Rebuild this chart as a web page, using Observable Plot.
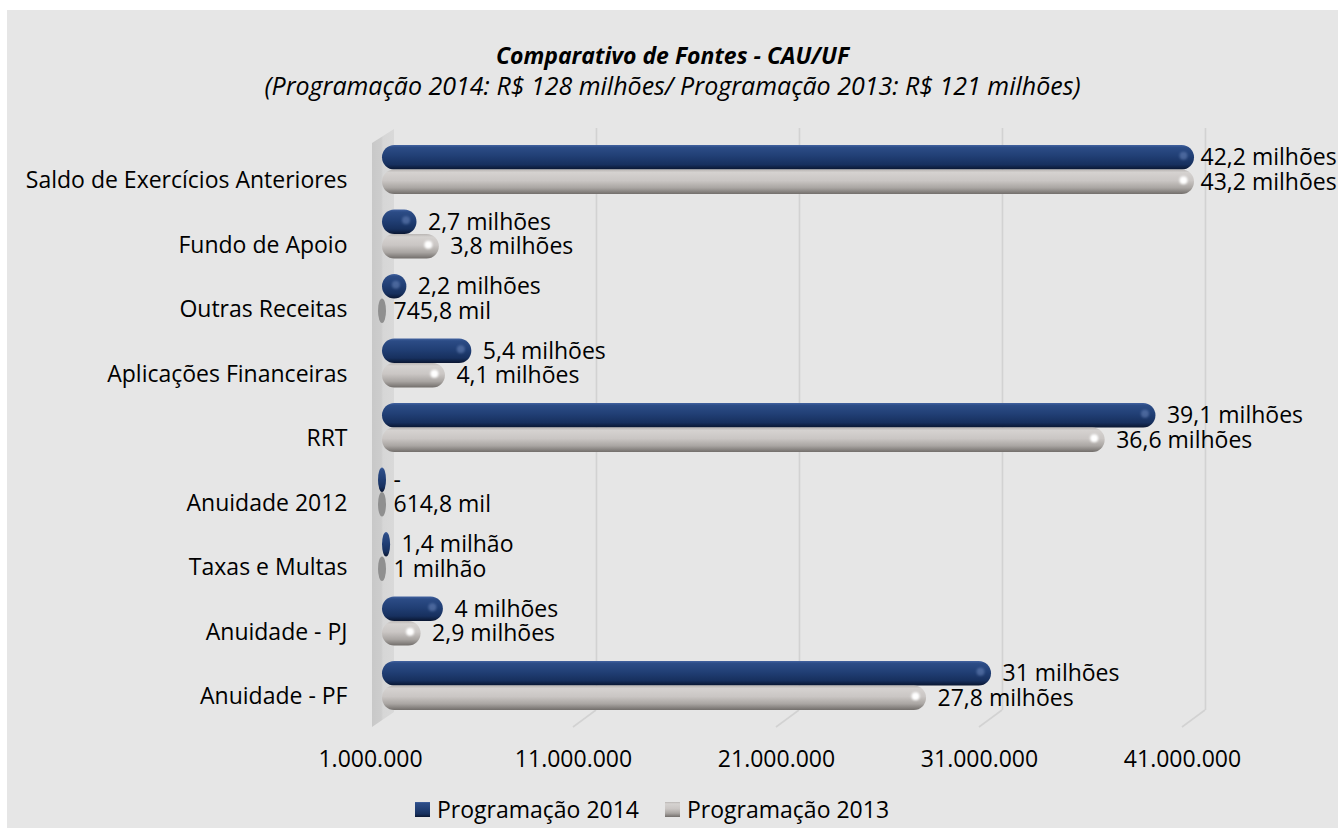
<!DOCTYPE html>
<html><head><meta charset="utf-8">
<script src="https://cdn.jsdelivr.net/npm/d3@7"></script>
<script src="https://cdn.jsdelivr.net/npm/@observablehq/plot@0.6"></script>
<style>
html,body{margin:0;padding:0;background:#fff;}
#chart{position:absolute;left:7px;top:10px;width:1331px;height:818px;background:#e6e6e6;font-family:"Open Sans",sans-serif;color:#000;overflow:hidden;}
#title{padding-top:29.5px;text-align:center;line-height:30px;}
#title .t{font-weight:bold;font-style:italic;font-size:23px;}
#title .s{font-style:italic;font-size:25px;}
#plot svg{display:block;}
#legend{padding-left:408px;margin-top:3px;}
</style></head><body>
<div id="chart">
  <div id="title"><div class="t">Comparativo de Fontes - CAU/UF</div><div class="s">(Programação 2014: R$ 128 milhões/ Programação 2013: R$ 121 milhões)</div></div>
  <div id="plot"></div>
  <div id="legend"></div>
</div>
<script>
const categories = ["Saldo de Exercícios Anteriores","Fundo de Apoio","Outras Receitas","Aplicações Financeiras","RRT","Anuidade 2012","Taxas e Multas","Anuidade - PJ","Anuidade - PF"];
const values2014 = [42.2e6, 2.7e6, 2.2e6, 5.4e6, 39.1e6, 0, 1.4e6, 4.0e6, 31.0e6];
const values2013 = [43.2e6, 3.8e6, 745.8e3, 4.1e6, 36.6e6, 614.8e3, 1.0e6, 2.9e6, 27.8e6];
const labels2014 = ["42,2 milhões","2,7 milhões","2,2 milhões","5,4 milhões","39,1 milhões","-","1,4 milhão","4 milhões","31 milhões"];
const labels2013 = ["43,2 milhões","3,8 milhões","745,8 mil","4,1 milhões","36,6 milhões","614,8 mil","1 milhão","2,9 milhões","27,8 milhões"];
const seriesNames = ["Programação 2014","Programação 2013"];
const xTicks = [1e6, 11e6, 21e6, 31e6, 41e6];
const xTickLabels = ["1.000.000","11.000.000","21.000.000","31.000.000","41.000.000"];

const rows = [];
categories.forEach((c, i) => {
  rows.push({category: c, series: seriesNames[0], value: values2014[i], label: labels2014[i]});
  rows.push({category: c, series: seriesNames[1], value: values2013[i], label: labels2013[i]});
});

const W = 1331, H = 690, mT = 37, mB = 72, mL = 375, mR = 144;
const pIn = 0.24, pOut = 0.124;
const step = (H - mT - mB) / (categories.length - pIn + 2 * pOut);
const half = step * (1 - pIn) / 2;
const xMin = xTicks[0], xMax = xTicks[xTicks.length - 1];
const tiny = 1.2e6;
const is14 = d => d.series === seriesNames[0];
const is13 = d => d.series === seriesNames[1];
const FS = 23;

const plot = Plot.plot({
  width: W, height: H,
  marginTop: mT, marginBottom: mB, marginLeft: mL, marginRight: mR,
  style: {background: "transparent", fontFamily: "'Open Sans', sans-serif", fontSize: FS + "px", color: "#000", overflow: "visible"},
  x: {domain: [xMin, xMax], clamp: true, axis: null},
  y: {domain: categories, paddingInner: pIn, paddingOuter: pOut, round: false, axis: null},
  color: {domain: seriesNames, range: ["url(#g14)", "url(#g13)"]},
  marks: [
    Plot.ruleX(xTicks.slice(1), {dx: 11, insetTop: -9, insetBottom: 8, stroke: "#d2d2d2", strokeWidth: 1.6}),
    Plot.text(xTicks, {x: d => d, text: (d, i) => xTickLabels[i], frameAnchor: "bottom", dy: 41, dx: -12, lineAnchor: "middle", fontSize: FS, fill: "#000"}),
    Plot.text(categories, {y: d => d, text: d => d, frameAnchor: "left", dx: -35, dy: 11, textAnchor: "end", lineAnchor: "middle", fontSize: FS, fill: "#000"}),
    // normal cylinders
    Plot.barX(rows, {filter: d => is14(d) && d.value > tiny, y: "category", x1: xMin, x2: "value", fill: "series", insetBottom: half, rx: half / 2}),
    Plot.barX(rows, {filter: d => is13(d) && d.value > tiny, y: "category", x1: xMin, x2: "value", fill: "series", insetTop: half, rx: half / 2}),
    // end caps only (values at or below the axis minimum)
    Plot.barX(rows, {filter: d => is14(d) && d.value <= tiny, y: "category", x1: xMin, x2: xMin, fill: "series", insetBottom: half, insetLeft: -4, insetRight: -4, rx: half / 2}),
    Plot.barX(rows, {filter: d => is13(d) && d.value <= tiny, y: "category", x1: xMin, x2: xMin, fill: "#8f8f8f", insetTop: half, insetLeft: -4, insetRight: -4, rx: half / 2}),
    // specular highlights
    Plot.dot(rows, {filter: d => is14(d) && d.value >= 2e6, x: "value", y: "category", dx: -11, dy: -half / 2 - 2, r: 4, fill: "#6f8cc0", fillOpacity: 0.5}),
    Plot.dot(rows, {filter: d => is13(d) && d.value >= 2e6, x: "value", y: "category", dx: -11, dy: half / 2 - 2, r: 4, fill: "#ffffff"}),
    // value labels
    Plot.text(rows, {filter: d => is14(d) && d.value < xMax, x: "value", y: "category", text: "label", dx: 11, dy: -half / 2, textAnchor: "start", lineAnchor: "middle", fontSize: FS, fill: "#000"}),
    Plot.text(rows, {filter: d => is13(d) && d.value < xMax, x: "value", y: "category", text: "label", dx: 11, dy: half / 2, textAnchor: "start", lineAnchor: "middle", fontSize: FS, fill: "#000"}),
    Plot.text(rows, {filter: d => is14(d) && d.value >= xMax, x: "value", y: "category", text: "label", dx: 6, dy: -half / 2, textAnchor: "start", lineAnchor: "middle", fontSize: FS, fill: "#000"}),
    Plot.text(rows, {filter: d => is13(d) && d.value >= xMax, x: "value", y: "category", text: "label", dx: 6, dy: half / 2, textAnchor: "start", lineAnchor: "middle", fontSize: FS, fill: "#000"})
  ]
});

document.getElementById("plot").appendChild(plot);

// gradients for the cylinder look
const svgSel = d3.select(plot);
const defs = svgSel.insert("defs", ":first-child");
function grad(id, stops, horizontal) {
  const g = defs.append("linearGradient").attr("id", id)
    .attr("x1", 0).attr("y1", 0).attr("x2", horizontal ? 1 : 0).attr("y2", horizontal ? 0 : 1);
  stops.forEach(([o, c]) => g.append("stop").attr("offset", o).attr("stop-color", c));
}
grad("g14", [[0, "#4363a0"], [0.1, "#2c4c86"], [0.45, "#213f75"], [0.8, "#17305e"], [1, "#0a1631"]]);
grad("g13", [[0, "#b9b5b3"], [0.12, "#d5d2d0"], [0.45, "#cac6c4"], [0.75, "#a9a5a2"], [1, "#726e6b"]]);
grad("gWall", [[0, "#c8c8c8"], [0.42, "#cdcdcd"], [0.5, "#d6d6d6"], [1, "#d9d9d9"]], true);
defs.append("filter").attr("id", "soft").attr("x", "-50%").attr("y", "-50%").attr("width", "200%").attr("height", "200%")
  .append("feGaussianBlur").attr("stdDeviation", 1.3);
svgSel.selectAll("g[aria-label='dot']").attr("filter", "url(#soft)");

// 3-D wall and floor lines, placed with the plot's own scales
const xs = plot.scale("x");
const yr = plot.scale("y").range;
const frameTop = Math.min(...yr), frameBottom = Math.max(...yr);
const decor = svgSel.insert("g", "g").attr("aria-label", "3d-frame");
const x0 = xs.apply(xMin);
decor.append("polygon")
  .attr("points", [[x0 - 10, frameTop + 6], [x0 + 12, frameTop - 8], [x0 + 12, frameBottom - 6], [x0 - 10, frameBottom + 9]].map(p => p.join(",")).join(" "))
  .attr("fill", "url(#gWall)");
xTicks.slice(1).forEach(t => {
  const xt = xs.apply(t);
  decor.append("line")
    .attr("x1", xt + 11).attr("y1", frameBottom - 8)
    .attr("x2", xt - 12).attr("y2", frameBottom + 9)
    .attr("stroke", "#d2d2d2").attr("stroke-width", 1.6);
});

// legend below the chart
const leg = plot.legend("color", {swatchSize: 15});
leg.style.fontFamily = "'Open Sans', sans-serif";
leg.style.fontSize = FS + "px";
leg.style.color = "#000";
leg.style.margin = "0";
leg.querySelectorAll("svg").forEach(s => {
  s.style.marginRight = "7px";
  if (s.parentNode) s.parentNode.style.marginRight = "26px";
});
document.getElementById("legend").appendChild(leg);
</script>
</body></html>
